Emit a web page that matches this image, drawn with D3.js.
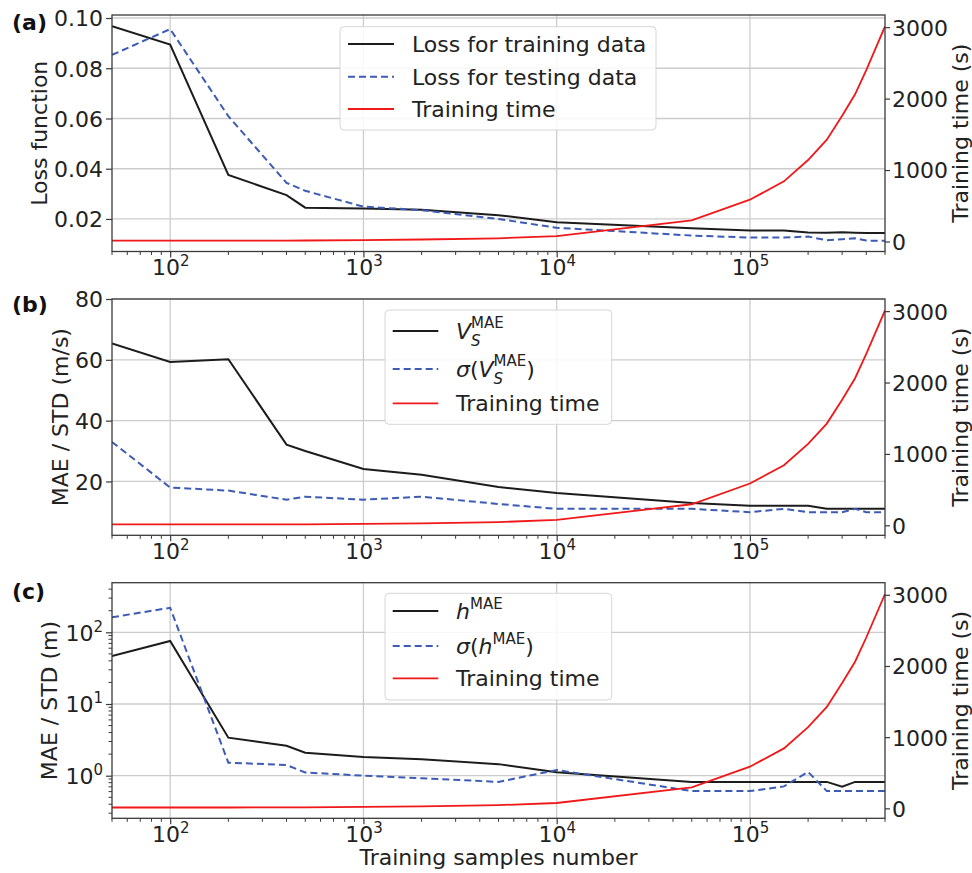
<!DOCTYPE html>
<html>
<head>
<meta charset="utf-8">
<script src="https://cdn.jsdelivr.net/npm/d3@7"></script>
<style>
  body { margin: 0; background: #fff; }
  text { font-family: "DejaVu Sans", sans-serif; }
</style>
</head>
<body>
<div id="chart"></div>
<script>
// ---------------- data ----------------
const samples = [50, 100, 200, 400, 500, 1000, 2000, 5000, 1e4, 5e4, 1e5, 1.5e5, 2e5, 2.5e5, 3e5, 3.5e5, 4e5, 5e5];
const trainTime = [12, 12, 12, 13, 14, 20, 28, 45, 75, 295, 585, 842, 1140, 1425, 1760, 2060, 2400, 3010];

// (a) loss
const lossTrain = [0.0967, 0.0894, 0.0375, 0.0295, 0.0245, 0.0242, 0.0237, 0.0215, 0.0187, 0.0163, 0.0154, 0.0154, 0.0146, 0.0145, 0.0147, 0.0145, 0.0144, 0.0144];
const lossTest = [0.0853, 0.0956, 0.0609, 0.0344, 0.0312, 0.0249, 0.0235, 0.0200, 0.0165, 0.0134, 0.0126, 0.0126, 0.0130, 0.0115, 0.0119, 0.0123, 0.0114, 0.0113];

// (b) Vs MAE / std
const vsMae = [65.4, 59.3, 60.2, 32.1, 30.0, 24.1, 22.2, 18.2, 16.2, 12.9, 12.0, 12.0, 12.0, 11.0, 11.0, 11.0, 11.0, 11.0];
const vsStd = [33.0, 18.0, 17.0, 14.0, 15.0, 14.0, 15.0, 12.6, 11.0, 11.0, 9.9, 11.0, 9.9, 9.9, 9.9, 11.0, 9.9, 9.9];

// (c) h MAE / std
const hMae = [46.7, 75.6, 3.39, 2.62, 2.09, 1.82, 1.70, 1.45, 1.12, 0.82, 0.82, 0.82, 0.82, 0.82, 0.70, 0.82, 0.82, 0.82];
const hStd = [162, 220, 1.52, 1.41, 1.11, 1.0, 0.92, 0.82, 1.20, 0.61, 0.61, 0.71, 1.13, 0.61, 0.61, 0.61, 0.61, 0.61];

const xTicks = [1e2, 1e3, 1e4, 1e5];
const timeTicks = [0, 1000, 2000, 3000];
const xLabel = "Training samples number";
const timeLabel = "Training time (s)";

// ---------------- setup ----------------
const FS = 22;
const black = "#1c1c1c", blue = "#3b5bb5", red = "#f01818";
const gridColor = "#cccccc", spineColor = "#3a3a3a", textColor = "#222";

const svg = d3.select("#chart").append("svg")
    .attr("width", 972)
    .attr("height", 873);

const left = 112, right = 885;
const x = d3.scaleLog().domain([50, 5e5]).range([left, right]);

// minor ticks 2..9 x 10^k inside a domain
function minorTicks(dom) {
    const out = [];
    for (let k = -2; k <= 6; k++) {
        for (let m = 2; m <= 9; m++) {
            const v = m * Math.pow(10, k);
            if (v >= dom[0] && v <= dom[1]) out.push(v);
        }
    }
    return out;
}

// text with pieces: italic / sub / sup, and a sup stacked over a sub
function richText(g, tx, ty, parts) {
    const text = g.append("text")
        .attr("x", tx).attr("y", ty)
        .attr("font-size", FS)
        .attr("fill", textColor);
    let shift = 0;
    parts.forEach(p => {
        const target = p.sub ? 7 : p.sup ? -10 : 0;
        const ts = text.append("tspan").attr("dy", target - shift).text(p.t);
        shift = target;
        if (p.italic) ts.attr("font-style", "italic");
        if (p.sub || p.sup) ts.attr("font-size", 15);
        if (p.stack) {
            const w = ts.node().getComputedTextLength();
            text.append("tspan")
                .attr("dx", -w)
                .attr("dy", -11 - shift)
                .attr("font-size", 15)
                .text(p.stack);
            shift = -11;
        }
    });
    return text;
}

function powerLabel(textSel, v) {
    const e = Math.round(Math.log10(v));
    textSel.text(null);
    textSel.append("tspan").text("10");
    textSel.append("tspan").attr("dy", -9).attr("font-size", 15).text(e);
}

const panels = [
    {
        letter: "(a)", letterY: 29.5, top: 15, bottom: 251.5,
        yType: "linear", yDomain: [0.00705, 0.1012], yTicks: [0.02, 0.04, 0.06, 0.08, 0.10],
        yFormat: d3.format(".2f"), yLabel: "Loss function", yLabelX: 46.5,
        mae: lossTrain, std: lossTest,
        legend: { x0: 340, x1: 656, y0: 11.7, y1: 115, rows: [29, 61.7, 94], lx0: 348, lx1: 394, tx: 412 },
        names: [
            [{ t: "Loss for training data" }],
            [{ t: "Loss for testing data" }],
            [{ t: "Training time" }]
        ]
    },
    {
        letter: "(b)", letterY: 312, top: 299, bottom: 535.3,
        yType: "linear", yDomain: [2.3, 80], yTicks: [20, 40, 60, 80],
        yFormat: d3.format("d"), yLabel: "MAE / STD (m/s)", yLabelX: 68.3,
        mae: vsMae, std: vsStd,
        legend: { x0: 385, x1: 611.7, y0: 11, y1: 125.3, rows: [32, 70, 104.3], lx0: 392.7, lx1: 438.3, tx: 456 },
        names: [
            [{ t: "V", italic: true }, { t: "S", italic: true, sub: true, stack: "MAE" }],
            [{ t: "σ", italic: true }, { t: "(" }, { t: "V", italic: true }, { t: "S", italic: true, sub: true, stack: "MAE" }, { t: ")" }],
            [{ t: "Training time" }]
        ]
    },
    {
        letter: "(c)", letterY: 599, top: 582.7, bottom: 818.3,
        yType: "log", yDomain: [0.2546, 492], yTicks: [1, 10, 100],
        yFormat: null, yLabel: "MAE / STD (m)", yLabelX: 57.3,
        mae: hMae, std: hStd,
        legend: { x0: 385, x1: 611.7, y0: 10.6, y1: 117.3, rows: [28.3, 63.3, 95.6], lx0: 392.7, lx1: 438.3, tx: 456 },
        names: [
            [{ t: "h", italic: true }, { t: "MAE", sup: true }],
            [{ t: "σ", italic: true }, { t: "(" }, { t: "h", italic: true }, { t: "MAE", sup: true }, { t: ")" }],
            [{ t: "Training time" }]
        ]
    }
];

panels.forEach((p, pi) => {
    const g = svg.append("g");
    const y = (p.yType === "log" ? d3.scaleLog() : d3.scaleLinear())
        .domain(p.yDomain).range([p.bottom, p.top]);
    const yT = d3.scaleLinear().domain([-140, 3170]).range([p.bottom, p.top]);

    // grid
    g.append("g").selectAll("line").data(xTicks).join("line")
        .attr("x1", d => x(d)).attr("x2", d => x(d))
        .attr("y1", p.top).attr("y2", p.bottom)
        .attr("stroke", gridColor).attr("stroke-width", 1.3);
    g.append("g").selectAll("line").data(p.yTicks).join("line")
        .attr("x1", left).attr("x2", right)
        .attr("y1", d => y(d)).attr("y2", d => y(d))
        .attr("stroke", gridColor).attr("stroke-width", 1.3);

    // series
    const clipId = "clip" + pi;
    svg.append("clipPath").attr("id", clipId).append("rect")
        .attr("x", left).attr("y", p.top).attr("width", right - left).attr("height", p.bottom - p.top);
    const lines = g.append("g").attr("clip-path", `url(#${clipId})`);

    const lineL = d3.line().x((d, i) => x(samples[i])).y(d => y(d));
    const lineT = d3.line().x((d, i) => x(samples[i])).y(d => yT(d));

    lines.append("path").datum(p.mae).attr("d", lineL)
        .attr("fill", "none").attr("stroke", black).attr("stroke-width", 2);
    lines.append("path").datum(p.std).attr("d", lineL)
        .attr("fill", "none").attr("stroke", blue).attr("stroke-width", 2)
        .attr("stroke-dasharray", "7,4");
    lines.append("path").datum(trainTime).attr("d", lineT)
        .attr("fill", "none").attr("stroke", red).attr("stroke-width", 1.8);

    // x axis
    const xAxis = g.append("g")
        .attr("transform", `translate(0,${p.bottom})`)
        .call(d3.axisBottom(x).tickValues(xTicks).tickSize(6).tickSizeOuter(0));
    xAxis.select(".domain").remove();
    xAxis.selectAll(".tick line").attr("stroke", spineColor).attr("stroke-width", 1.2);
    xAxis.selectAll(".tick text")
        .attr("y", 23.5).attr("dy", null)
        .attr("font-size", FS).attr("fill", textColor)
        .attr("font-family", "DejaVu Sans")
        .each(function (d) { powerLabel(d3.select(this), d); });
    g.append("g").selectAll("line").data(minorTicks(x.domain())).join("line")
        .attr("x1", d => x(d)).attr("x2", d => x(d))
        .attr("y1", p.bottom).attr("y2", p.bottom + 3.5)
        .attr("stroke", spineColor).attr("stroke-width", 1);

    // left axis
    const yAxis = g.append("g")
        .attr("transform", `translate(${left},0)`)
        .call(d3.axisLeft(y).tickValues(p.yTicks).tickSize(6).tickSizeOuter(0).tickPadding(4));
    yAxis.select(".domain").remove();
    yAxis.selectAll(".tick line").attr("stroke", spineColor).attr("stroke-width", 1.2);
    yAxis.selectAll(".tick text")
        .attr("font-size", FS).attr("fill", textColor)
        .attr("font-family", "DejaVu Sans")
        .attr("x", -9).attr("dy", "0.36em")
        .each(function (d) {
            if (p.yType === "log") powerLabel(d3.select(this), d);
            else d3.select(this).text(p.yFormat(d));
        });
    if (p.yType === "log") {
        g.append("g").selectAll("line").data(minorTicks(y.domain())).join("line")
            .attr("x1", left - 3.5).attr("x2", left)
            .attr("y1", d => y(d)).attr("y2", d => y(d))
            .attr("stroke", spineColor).attr("stroke-width", 1);
    }

    // right axis
    const rAxis = g.append("g")
        .attr("transform", `translate(${right},0)`)
        .call(d3.axisRight(yT).tickValues(timeTicks).tickFormat(d3.format("d"))
            .tickSize(5).tickSizeOuter(0).tickPadding(4));
    rAxis.select(".domain").remove();
    rAxis.selectAll(".tick line").attr("stroke", spineColor).attr("stroke-width", 1.2);
    rAxis.selectAll(".tick text")
        .attr("font-size", FS).attr("fill", textColor)
        .attr("font-family", "DejaVu Sans")
        .attr("x", 7).attr("dy", "0.36em");

    // frame
    g.append("rect")
        .attr("x", left).attr("y", p.top)
        .attr("width", right - left).attr("height", p.bottom - p.top)
        .attr("fill", "none").attr("stroke", spineColor).attr("stroke-width", 1.3);

    // axis labels
    const midY = (p.top + p.bottom) / 2;
    g.append("text")
        .attr("transform", `translate(${p.yLabelX},${midY}) rotate(-90)`)
        .attr("text-anchor", "middle")
        .attr("font-size", FS).attr("fill", textColor)
        .text(p.yLabel);
    g.append("text")
        .attr("transform", `translate(968,${midY}) rotate(-90)`)
        .attr("text-anchor", "middle")
        .attr("font-size", FS).attr("fill", textColor)
        .text(timeLabel);

    // panel letter
    g.append("text")
        .attr("x", 12).attr("y", p.letterY)
        .attr("font-size", FS).attr("font-weight", "bold").attr("fill", "#111")
        .text(p.letter);

    // legend
    const L = p.legend;
    const lg = g.append("g");
    lg.append("rect")
        .attr("x", L.x0).attr("y", p.top + L.y0)
        .attr("width", L.x1 - L.x0).attr("height", L.y1 - L.y0)
        .attr("rx", 4).attr("ry", 4)
        .attr("fill", "#fff").attr("fill-opacity", 0.85)
        .attr("stroke", "#d6d6d6").attr("stroke-width", 1);
    const styles = [
        { c: black, w: 2, dash: null },
        { c: blue, w: 2, dash: "7,4" },
        { c: red, w: 1.8, dash: null }
    ];
    L.rows.forEach((ry, i) => {
        const yy = p.top + ry;
        lg.append("line")
            .attr("x1", L.lx0).attr("x2", L.lx1)
            .attr("y1", yy).attr("y2", yy)
            .attr("stroke", styles[i].c).attr("stroke-width", styles[i].w)
            .attr("stroke-dasharray", styles[i].dash);
        richText(lg, L.tx, yy + 8, p.names[i]);
    });
});

// x label (bottom panel only)
svg.append("text")
    .attr("x", (left + right) / 2).attr("y", 865)
    .attr("text-anchor", "middle")
    .attr("font-size", FS).attr("fill", textColor)
    .text(xLabel);
</script>
</body>
</html>
